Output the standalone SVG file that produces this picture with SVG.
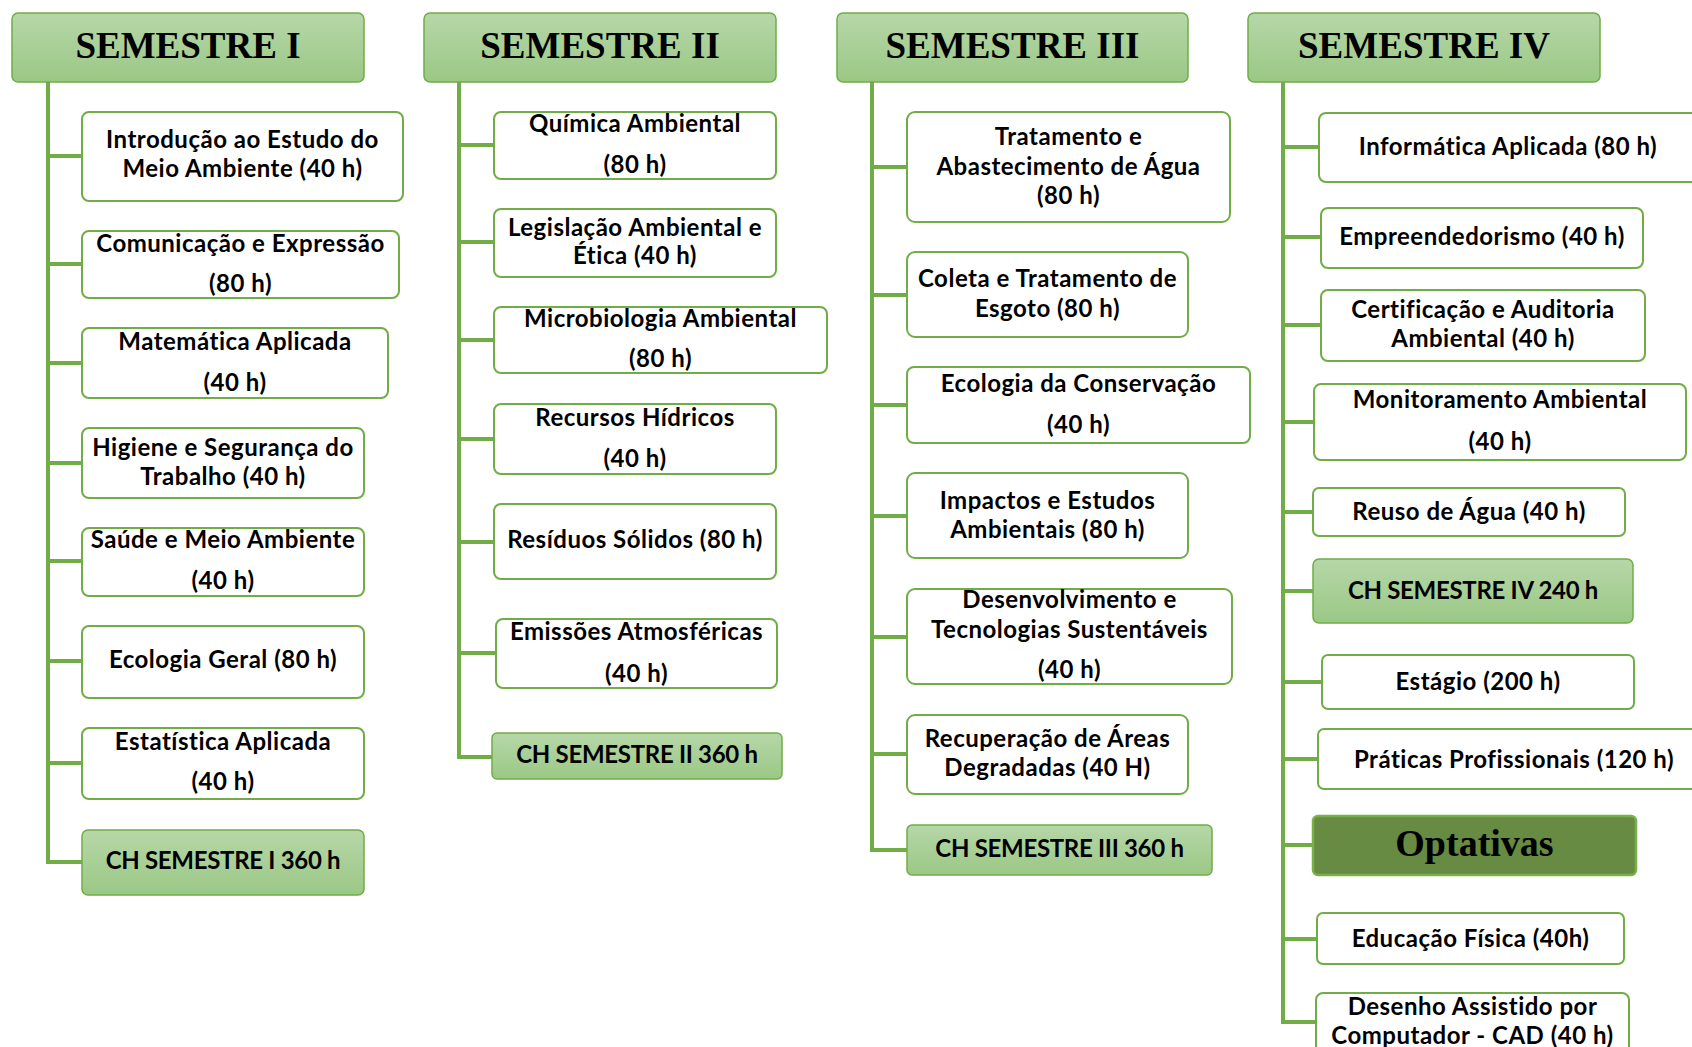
<svg xmlns="http://www.w3.org/2000/svg" width="1692" height="1047" viewBox="0 0 1692 1047">
<defs>
<linearGradient id="gGreen" x1="0" y1="0" x2="0" y2="1">
<stop offset="0" stop-color="#b6d7a8"/>
<stop offset="1" stop-color="#9bc885"/>
</linearGradient>
</defs>
<style>
.box{fill:#ffffff;stroke:#70ad47;stroke-width:2}
.hdr{fill:url(#gGreen);stroke:#70ad47;stroke-width:1.5}
.ch{fill:url(#gGreen);stroke:#70ad47;stroke-width:1.5}
.opt{fill:#678b42;stroke:#78b04a;stroke-width:2.5}
.t{font-family:Lato,"Liberation Sans",sans-serif;font-weight:bold;font-size:24px;letter-spacing:0.5px;fill:#000;text-anchor:middle}
.tc{font-family:Lato,"Liberation Sans",sans-serif;font-weight:bold;font-size:24px;letter-spacing:-0.3px;fill:#000;text-anchor:middle}
.ht{font-family:"Liberation Serif","Times New Roman",serif;font-weight:bold;font-size:37px;fill:#000;text-anchor:middle}
.ot{font-family:"Liberation Serif","Times New Roman",serif;font-weight:bold;font-size:38px;fill:#000;text-anchor:middle}
.c{fill:none;stroke:#70ad47;stroke-width:4;stroke-linejoin:miter}
</style>
<rect width="1692" height="1047" fill="#ffffff"/>

<g id="connectors">
<path class="c" d="M48,82 V862 H82 M48,156 H82 M48,264 H82 M48,363 H82 M48,463 H82 M48,561 H82 M48,661 H82 M48,763 H82"/>
<path class="c" d="M459,82 V757 H492 M459,145 H494 M459,242 H494 M459,340 H494 M459,439 H494 M459,542 H494 M459,653 H496"/>
<path class="c" d="M872,82 V850 H907 M872,167 H907 M872,295 H907 M872,405 H907 M872,516 H907 M872,637 H907 M872,754 H907"/>
<path class="c" d="M1283,82 V1022 H1316 M1283,147 H1319 M1283,237 H1321 M1283,325 H1321 M1283,422 H1314 M1283,512 H1313 M1283,591 H1313 M1283,682 H1322 M1283,759 H1318 M1283,845 H1313 M1283,939 H1317"/>
</g>

<g id="sem1">
<rect class="hdr" x="12" y="13" width="352" height="69" rx="6"/>
<text class="ht" x="188" y="58">SEMESTRE I</text>
</g>
<g id="s1n1"><rect class="box" x="82" y="112" width="321" height="89" rx="7"/><text class="t" x="242.5" y="148">Introdução ao Estudo do</text><text class="t" x="242.5" y="177">Meio Ambiente (40 h)</text></g>
<g id="s1n2"><rect class="box" x="82" y="231" width="317" height="67" rx="7"/><text class="t" x="240.5" y="252">Comunicação e Expressão</text><text class="t" x="240.5" y="292">(80 h)</text></g>
<g id="s1n3"><rect class="box" x="82" y="328" width="306" height="70" rx="7"/><text class="t" x="235" y="350">Matemática Aplicada</text><text class="t" x="235" y="391">(40 h)</text></g>
<g id="s1n4"><rect class="box" x="82" y="428" width="282" height="70" rx="7"/><text class="t" x="223" y="456">Higiene e Segurança do</text><text class="t" x="223" y="485">Trabalho (40 h)</text></g>
<g id="s1n5"><rect class="box" x="82" y="528" width="282" height="68" rx="7"/><text class="t" x="223" y="548">Saúde e Meio Ambiente</text><text class="t" x="223" y="589">(40 h)</text></g>
<g id="s1n6"><rect class="box" x="82" y="626" width="282" height="72" rx="7"/><text class="t" x="223" y="668">Ecologia Geral (80 h)</text></g>
<g id="s1n7"><rect class="box" x="82" y="728" width="282" height="71" rx="7"/><text class="t" x="223" y="750">Estatística Aplicada</text><text class="t" x="223" y="790">(40 h)</text></g>
<g id="s1ch"><rect class="ch" x="82" y="830" width="282" height="65" rx="6"/><text class="tc" x="223" y="869">CH SEMESTRE I 360 h</text></g>

<g id="sem2">
<rect class="hdr" x="424" y="13" width="352" height="69" rx="6"/>
<text class="ht" x="600" y="58">SEMESTRE II</text>
</g>
<g id="s2n1"><rect class="box" x="494" y="112" width="282" height="67" rx="7"/><text class="t" x="635" y="132">Química Ambiental</text><text class="t" x="635" y="173">(80 h)</text></g>
<g id="s2n2"><rect class="box" x="494" y="209" width="282" height="68" rx="7"/><text class="t" x="635" y="236">Legislação Ambiental e</text><text class="t" x="635" y="264">Ética (40 h)</text></g>
<g id="s2n3"><rect class="box" x="494" y="307" width="333" height="66" rx="7"/><text class="t" x="660.5" y="327">Microbiologia Ambiental</text><text class="t" x="660.5" y="367">(80 h)</text></g>
<g id="s2n4"><rect class="box" x="494" y="404" width="282" height="70" rx="7"/><text class="t" x="635" y="426">Recursos Hídricos</text><text class="t" x="635" y="467">(40 h)</text></g>
<g id="s2n5"><rect class="box" x="494" y="504" width="282" height="75" rx="7"/><text class="t" x="635" y="548">Resíduos Sólidos (80 h)</text></g>
<g id="s2n6"><rect class="box" x="496" y="619" width="281" height="69" rx="7"/><text class="t" x="636.5" y="640">Emissões Atmosféricas</text><text class="t" x="636.5" y="682">(40 h)</text></g>
<g id="s2ch"><rect class="ch" x="492" y="733" width="290" height="46" rx="5"/><text class="tc" x="637" y="763">CH SEMESTRE II 360 h</text></g>

<g id="sem3">
<rect class="hdr" x="837" y="13" width="351" height="69" rx="6"/>
<text class="ht" x="1012.5" y="58">SEMESTRE III</text>
</g>
<g id="s3n1"><rect class="box" x="907" y="112" width="323" height="110" rx="8"/><text class="t" x="1068.5" y="145">Tratamento e</text><text class="t" x="1068.5" y="175">Abastecimento de Água</text><text class="t" x="1068.5" y="204">(80 h)</text></g>
<g id="s3n2"><rect class="box" x="907" y="252" width="281" height="85" rx="8"/><text class="t" x="1047.5" y="287">Coleta e Tratamento de</text><text class="t" x="1047.5" y="317">Esgoto (80 h)</text></g>
<g id="s3n3"><rect class="box" x="907" y="367" width="343" height="76" rx="7"/><text class="t" x="1078.5" y="392">Ecologia da Conservação</text><text class="t" x="1078.5" y="433">(40 h)</text></g>
<g id="s3n4"><rect class="box" x="907" y="473" width="281" height="85" rx="8"/><text class="t" x="1047.5" y="509">Impactos e Estudos</text><text class="t" x="1047.5" y="538">Ambientais (80 h)</text></g>
<g id="s3n5"><rect class="box" x="907" y="589" width="325" height="95" rx="8"/><text class="t" x="1069.5" y="608">Desenvolvimento e</text><text class="t" x="1069.5" y="638">Tecnologias Sustentáveis</text><text class="t" x="1069.5" y="678">(40 h)</text></g>
<g id="s3n6"><rect class="box" x="907" y="715" width="281" height="79" rx="8"/><text class="t" x="1047.5" y="747">Recuperação de Áreas</text><text class="t" x="1047.5" y="776">Degradadas (40 H)</text></g>
<g id="s3ch"><rect class="ch" x="907" y="825" width="305" height="50" rx="5"/><text class="tc" x="1059.5" y="857">CH SEMESTRE III 360 h</text></g>

<g id="sem4">
<rect class="hdr" x="1248" y="13" width="352" height="69" rx="6"/>
<text class="ht" x="1424" y="58">SEMESTRE IV</text>
</g>
<g id="s4n1"><rect class="box" x="1319" y="113" width="380" height="69" rx="7"/><text class="t" x="1508" y="155">Informática Aplicada (80 h)</text></g>
<g id="s4n2"><rect class="box" x="1321" y="208" width="322" height="60" rx="7"/><text class="t" x="1482" y="245">Empreendedorismo (40 h)</text></g>
<g id="s4n3"><rect class="box" x="1321" y="290" width="324" height="71" rx="7"/><text class="t" x="1483" y="318">Certificação e Auditoria</text><text class="t" x="1483" y="347">Ambiental (40 h)</text></g>
<g id="s4n4"><rect class="box" x="1314" y="384" width="372" height="76" rx="7"/><text class="t" x="1500" y="408">Monitoramento Ambiental</text><text class="t" x="1500" y="450">(40 h)</text></g>
<g id="s4n5"><rect class="box" x="1313" y="488" width="312" height="48" rx="6"/><text class="t" x="1469" y="520">Reuso de Água (40 h)</text></g>
<g id="s4ch"><rect class="ch" x="1313" y="559" width="320" height="64" rx="6"/><text class="tc" x="1473" y="599">CH SEMESTRE IV 240 h</text></g>
<g id="s4n6"><rect class="box" x="1322" y="655" width="312" height="54" rx="6"/><text class="t" x="1478" y="690">Estágio (200 h)</text></g>
<g id="s4n7"><rect class="box" x="1318" y="729" width="392" height="60" rx="6"/><text class="t" x="1514" y="768">Práticas Profissionais (120 h)</text></g>
<g id="s4opt"><rect class="opt" x="1313" y="816" width="323" height="59" rx="5"/><text class="ot" x="1474.5" y="856">Optativas</text></g>
<g id="s4n8"><rect class="box" x="1317" y="913" width="307" height="51" rx="6"/><text class="t" x="1470.5" y="947">Educação Física (40h)</text></g>
<g id="s4n9"><rect class="box" x="1316" y="993" width="313" height="80" rx="7"/><text class="t" x="1472.5" y="1015">Desenho Assistido por</text><text class="t" x="1472.5" y="1044">Computador - CAD (40 h)</text></g>
</svg>
